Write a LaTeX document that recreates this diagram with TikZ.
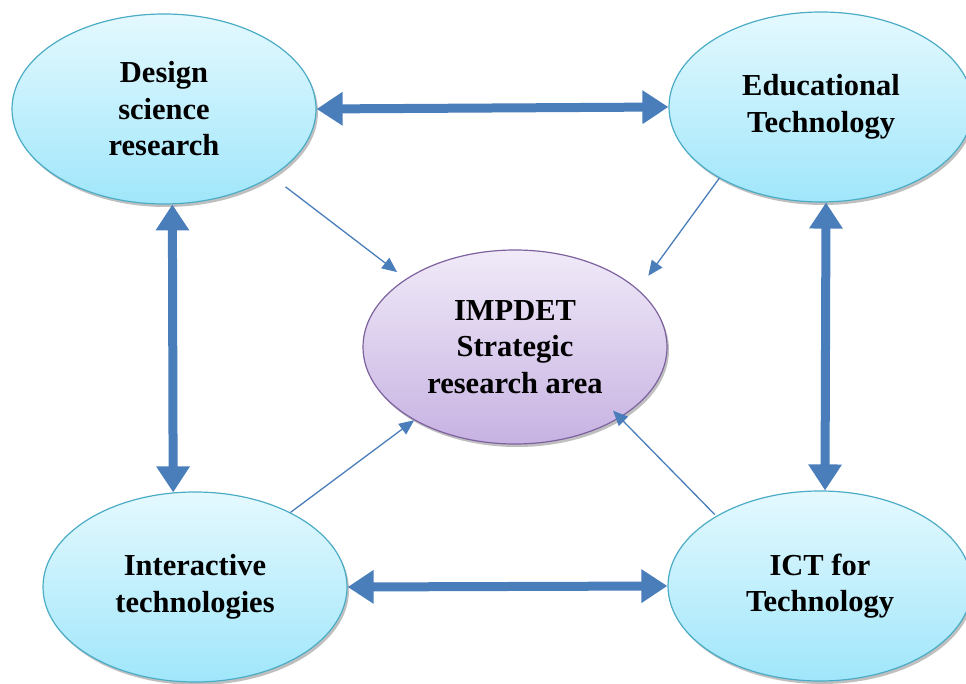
\documentclass[tikz,border=0pt]{standalone}
\usepackage{fontspec}
\setmainfont{Liberation Serif}
\usepackage{tikz}
\usetikzlibrary{arrows.meta}
\usetikzlibrary{shapes.geometric}
\usetikzlibrary{shadows}
\definecolor{topicline}{HTML}{4BACC6}
\definecolor{topictop}{HTML}{E4F9FE}
\definecolor{topicbottom}{HTML}{A0E6FB}
\definecolor{coreline}{HTML}{7E62A0}
\definecolor{coretop}{HTML}{F0EAF8}
\definecolor{corebottom}{HTML}{C7B2E2}
\definecolor{linkblue}{HTML}{4A7EBB}

\begin{document}
\begin{tikzpicture}[x=1pt,y=-1pt,every node/.style={ellipse,draw,line width=1.2pt,inner sep=0pt,align=center,font=\bfseries\fontsize{30.5}{36.5}\selectfont,minimum width=304pt,minimum height=190pt,drop shadow={shadow xshift=2pt,shadow yshift=-3pt,opacity=0.25,fill=black}},topic/.style={draw=topicline,top color=topictop,bottom color=topicbottom},core/.style={draw=coreline,top color=coretop,bottom color=corebottom,minimum height=194pt},bigarrow/.style={draw=linkblue,line width=9pt,arrows={Triangle[length=26pt,width=32pt]-Triangle[length=26pt,width=32pt]}},thinarrow/.style={draw=linkblue,line width=1.3pt,arrows={-Triangle[length=15pt,width=13pt]}}]
	
	\useasboundingbox (0,0) rectangle (966,684);
	\clip (0,0) rectangle (966,684);
	
	\node[topic] (dsr) at (164,109) {Design\\science\\research};
	\node[topic] (edt) at (821,107) {Educational\\Technology};
	\node[topic] (itc) at (195,587) {Interactive\\technologies};
	\node[topic] (ict) at (820,586) {ICT for\\Technology};
	\node[core] (imp) at (515,347) {IMPDET\\Strategic\\research area};
	
	\draw[bigarrow] (dsr.east) -- (edt.west);
	\draw[bigarrow] (itc.east) -- (ict.west);
	\draw[bigarrow] (dsr.-85) -- (itc.103);
	\draw[bigarrow] (edt.-87) -- (ict.87);
	
	\draw[thinarrow,shorten <=17pt,shorten >=11pt] (dsr.-32) -- (imp.148);
	\draw[thinarrow,shorten >=17pt] (edt.-145) -- (imp.25);
	\draw[thinarrow] (itc.38) -- (imp.-144);
	\draw[thinarrow,shorten <=2pt,shorten >=-10pt] (ict.146) -- (imp.-34);
	
\end{tikzpicture}
\end{document}
